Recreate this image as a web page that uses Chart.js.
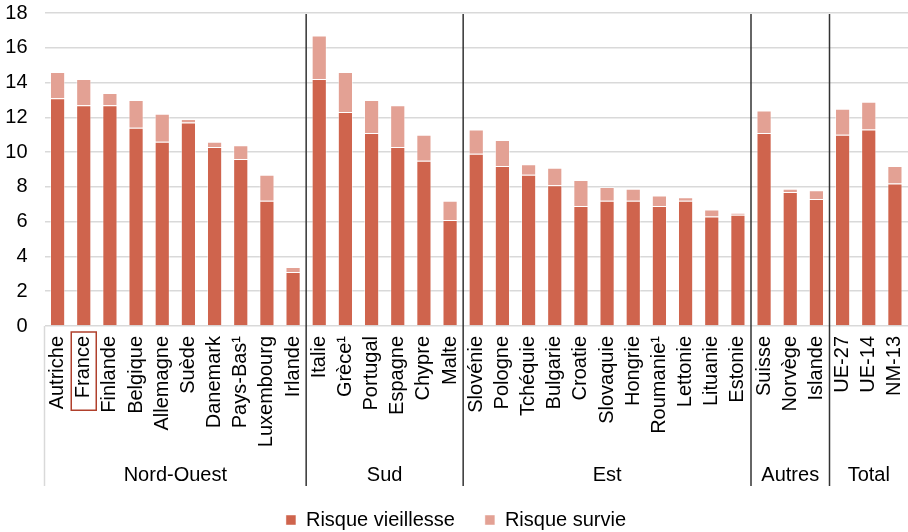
<!DOCTYPE html>
<html lang="fr">
<head>
    <meta charset="UTF-8">
    <title>Risque vieillesse et survie</title>
    <script src="https://cdn.jsdelivr.net/npm/chart.js"></script>
    <style>
        body { margin: 0; background: #fff; }
    </style>
</head>
<body>
    <canvas id="chart" width="908" height="532"></canvas>
    <script>
        // categories and groups
        const pays = ['Autriche', 'France', 'Finlande', 'Belgique', 'Allemagne', 'Suède', 'Danemark', 'Pays-Bas¹', 'Luxembourg', 'Irlande',
            'Italie', 'Grèce¹', 'Portugal', 'Espagne', 'Chypre', 'Malte',
            'Slovénie', 'Pologne', 'Tchéquie', 'Bulgarie', 'Croatie', 'Slovaquie', 'Hongrie', 'Roumanie¹', 'Lettonie', 'Lituanie', 'Estonie',
            'Suisse', 'Norvège', 'Islande',
            'UE-27', 'UE-14', 'NM-13'];
        const groupNames = ['Nord-Ouest', 'Sud', 'Est', 'Autres', 'Total'];
        const groupSizes = [10, 6, 11, 3, 3];

        // values (% du PIB)
        const vieillesse = [13.1, 12.7, 12.7, 11.4, 10.6, 11.7, 10.3, 9.6, 7.2, 3.1,
            14.2, 12.3, 11.1, 10.3, 9.5, 6.1,
            9.9, 9.2, 8.7, 8.1, 6.9, 7.2, 7.2, 6.9, 7.2, 6.3, 6.4,
            11.1, 7.7, 7.3,
            11.0, 11.3, 8.2];
        const survie = [1.5, 1.5, 0.7, 1.6, 1.6, 0.2, 0.3, 0.8, 1.5, 0.3,
            2.5, 2.3, 1.9, 2.4, 1.5, 1.1,
            1.4, 1.5, 0.6, 1.0, 1.5, 0.8, 0.7, 0.6, 0.2, 0.4, 0.1,
            1.3, 0.2, 0.5,
            1.5, 1.6, 1.0];

        const yTicks = [0, 2, 4, 6, 8, 10, 12, 14, 16, 18];
        const highlight = 'France';

        Chart.defaults.font.family = "Arial, 'Liberation Sans', sans-serif";
        Chart.defaults.font.size = 20;
        Chart.defaults.color = '#000';

        const FONT = "20px Arial, 'Liberation Sans', sans-serif";

        // separators, group names, box around France
        const groupPlugin = {
            id: 'groups',
            afterDraw(chart) {
                const ctx = chart.ctx;
                const x = chart.scales.x;
                const area = chart.chartArea;
                const lineBottom = area.bottom + 160;
                const edge = i => (x.getPixelForValue(i - 1) + x.getPixelForValue(i)) / 2;

                ctx.save();
                // left border below axis
                ctx.strokeStyle = '#d9d9d9';
                ctx.lineWidth = 1.5;
                ctx.beginPath();
                ctx.moveTo(x.left, area.bottom);
                ctx.lineTo(x.left, lineBottom);
                ctx.stroke();

                ctx.font = FONT;
                ctx.fillStyle = '#000';
                ctx.textAlign = 'center';
                ctx.textBaseline = 'middle';
                let start = 0;
                groupSizes.forEach((n, g) => {
                    const left = g === 0 ? x.left : edge(start);
                    const end = start + n;
                    const right = end >= pays.length ? x.right : edge(end);
                    if (end < pays.length) {
                        ctx.strokeStyle = '#333';
                        ctx.lineWidth = 1.5;
                        ctx.beginPath();
                        ctx.moveTo(right, area.top + 1);
                        ctx.lineTo(right, lineBottom);
                        ctx.stroke();
                    }
                    ctx.fillText(groupNames[g], (left + right) / 2, area.bottom + 149);
                    start = end;
                });

                // box around the highlighted label
                const idx = pays.indexOf(highlight);
                const cx = x.getPixelForValue(idx);
                const w = ctx.measureText(highlight).width;
                const top = area.bottom + 6;
                ctx.strokeStyle = '#b0402c';
                ctx.lineWidth = 1.5;
                ctx.strokeRect(cx - 12.5, top, 25, w + 16);
                ctx.restore();
            }
        };

        new Chart(document.getElementById('chart'), {
            type: 'bar',
            data: {
                labels: pays,
                datasets: [{
                    label: 'Risque vieillesse',
                    data: vieillesse,
                    backgroundColor: '#cf644d',
                    borderColor: 'rgba(255,255,255,0.45)',
                    borderWidth: 1
                }, {
                    label: 'Risque survie',
                    data: survie,
                    backgroundColor: '#e3a194',
                    borderColor: 'rgba(255,255,255,0.45)',
                    borderWidth: 1
                }]
            },
            options: {
                responsive: false,
                animation: false,
                layout: { padding: { top: 13, right: -4, left: 0, bottom: -8 } },
                datasets: { bar: { categoryPercentage: 1, barPercentage: 0.58 } },
                plugins: {
                    tooltip: { enabled: false },
                    legend: {
                        position: 'bottom',
                        labels: {
                            boxWidth: 10,
                            boxHeight: 10,
                            padding: 30,
                            font: { size: 20 }
                        }
                    }
                },
                scales: {
                    x: {
                        stacked: true,
                        grid: { display: false, drawTicks: false },
                        border: { display: false },
                        ticks: { minRotation: 90, maxRotation: 90, padding: 10, autoSkip: false },
                        afterFit(scale) {
                            scale.height = 154;
                            scale.paddingLeft = 0;
                            scale.paddingRight = 0;
                        }
                    },
                    y: {
                        stacked: true,
                        min: 0,
                        max: 18,
                        afterBuildTicks(scale) { scale.ticks = yTicks.map(v => ({ value: v })); },
                        grid: { color: '#d9d9d9', lineWidth: 1.5, drawTicks: false },
                        border: { display: false },
                        ticks: { padding: 17 },
                        afterFit(scale) {
                            scale.width = 44.5;
                            scale.paddingTop = 0;
                            scale.paddingBottom = 0;
                        }
                    }
                }
            },
            plugins: [groupPlugin]
        });
    </script>
</body>
</html>
